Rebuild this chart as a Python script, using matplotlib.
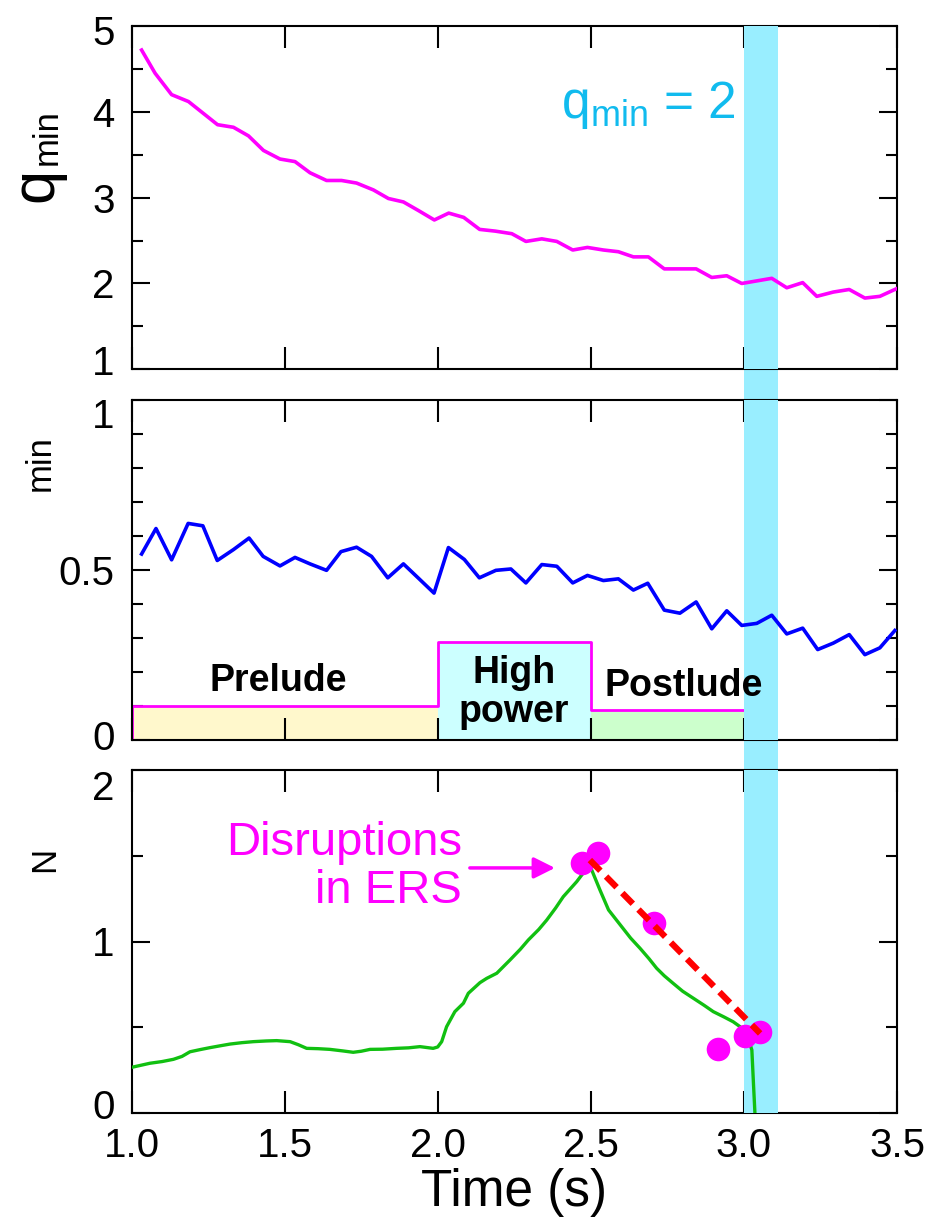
import matplotlib
matplotlib.use("Agg")
import matplotlib.pyplot as plt
import numpy as np
from matplotlib.patches import Rectangle
from matplotlib.transforms import blended_transform_factory, ScaledTranslation

plt.rcParams['font.family'] = ['Liberation Sans', 'DejaVu Sans']
plt.rcParams['mathtext.fontset'] = 'custom'
plt.rcParams['mathtext.rm'] = 'Liberation Sans'
plt.rcParams['mathtext.it'] = 'Liberation Sans'

# top panel: q_min
t_q = [1.033, 1.077, 1.131, 1.186, 1.281, 1.333, 1.382, 1.431, 1.485, 1.534, 1.583, 1.637,
       1.686, 1.735, 1.790, 1.839, 1.888, 1.937, 1.989, 2.036, 2.085, 2.137, 2.188, 2.242,
       2.288, 2.340, 2.389, 2.441, 2.489, 2.541, 2.590, 2.639, 2.688, 2.740, 2.791, 2.844,
       2.895, 2.944, 2.993, 3.042, 3.091, 3.140, 3.192, 3.238, 3.292, 3.344, 3.395, 3.444, 3.499]
q_min = [4.72, 4.45, 4.20, 4.12, 3.85, 3.82, 3.72, 3.55, 3.45, 3.42, 3.29, 3.20,
         3.20, 3.17, 3.09, 2.99, 2.95, 2.85, 2.74, 2.82, 2.77, 2.63, 2.61, 2.58,
         2.49, 2.52, 2.49, 2.39, 2.42, 2.39, 2.37, 2.31, 2.31, 2.17, 2.17, 2.17,
         2.07, 2.09, 2.00, 2.03, 2.06, 1.95, 2.01, 1.85, 1.90, 1.93, 1.83, 1.85, 1.94]

# middle panel
t_b = [1.033, 1.080, 1.131, 1.185, 1.233, 1.280, 1.333, 1.384, 1.430, 1.485, 1.534, 1.583,
       1.637, 1.684, 1.735, 1.784, 1.837, 1.888, 1.937, 1.988, 2.035, 2.087, 2.136, 2.190,
       2.239, 2.288, 2.340, 2.389, 2.441, 2.489, 2.541, 2.590, 2.639, 2.686, 2.740, 2.791,
       2.844, 2.895, 2.944, 2.993, 3.042, 3.091, 3.140, 3.192, 3.241, 3.292, 3.344, 3.395,
       3.444, 3.493]
b_min = [0.547, 0.622, 0.530, 0.637, 0.630, 0.528, 0.560, 0.594, 0.540, 0.512, 0.537, 0.518,
         0.499, 0.554, 0.567, 0.540, 0.477, 0.518, 0.476, 0.432, 0.566, 0.531, 0.477, 0.499,
         0.503, 0.462, 0.516, 0.511, 0.462, 0.484, 0.469, 0.474, 0.441, 0.461, 0.382, 0.373,
         0.406, 0.327, 0.380, 0.337, 0.343, 0.367, 0.312, 0.329, 0.266, 0.285, 0.310, 0.251,
         0.271, 0.322]

# phases
phase_edges = [1.0, 2.0, 2.5, 3.0]
phase_level = [0.10, 0.287, 0.088]
phase_names = ['Prelude', 'High\npower', 'Postlude']
phase_fill = ['#FFF8CC', '#CCFFFF', '#CCFFCC']

# bottom panel
t_n = [1.000, 1.030, 1.060, 1.100, 1.137, 1.165, 1.191, 1.225, 1.256, 1.290, 1.322, 1.360,
       1.398, 1.440, 1.474, 1.518, 1.545, 1.572, 1.610, 1.648, 1.690, 1.724, 1.750, 1.779,
       1.820, 1.866, 1.905, 1.942, 1.985, 2.000, 2.013, 2.029, 2.056, 2.084, 2.100, 2.138,
       2.160, 2.193, 2.236, 2.270, 2.296, 2.330, 2.356, 2.385, 2.410, 2.454, 2.487, 2.503,
       2.530, 2.558, 2.601, 2.630, 2.661, 2.690, 2.715, 2.740, 2.769, 2.800, 2.835, 2.870,
       2.900, 2.935, 2.965, 2.990, 3.009, 3.026, 3.031, 3.036]
beta_n = [0.266, 0.278, 0.290, 0.300, 0.313, 0.330, 0.357, 0.370, 0.381, 0.392, 0.402, 0.410,
          0.416, 0.420, 0.422, 0.416, 0.398, 0.377, 0.375, 0.371, 0.362, 0.354, 0.360, 0.371,
          0.372, 0.377, 0.380, 0.387, 0.377, 0.385, 0.416, 0.503, 0.591, 0.640, 0.698, 0.760,
          0.785, 0.815, 0.892, 0.955, 1.009, 1.070, 1.125, 1.195, 1.261, 1.349, 1.427, 1.417,
          1.300, 1.184, 1.086, 1.020, 0.960, 0.900, 0.844, 0.800, 0.756, 0.710, 0.669, 0.628,
          0.591, 0.560, 0.532, 0.500, 0.465, 0.367, 0.180, 0.0]

t_ers = [2.470, 2.524, 2.706, 2.917, 3.004, 3.053]
ers = [1.456, 1.518, 1.106, 0.371, 0.449, 0.471]
fit_t = [2.497, 3.053]
fit_v = [1.475, 0.464]

band = [3.0, 3.11]
band_col = '#99EEFF'

fig = plt.figure(figsize=(9.35, 12.23), dpi=100)
W, H = 935.0, 1223.0
x0, x1 = 131.5, 897.0
panels = [(26.0, 369.3), (400.0, 740.0), (770.0, 1113.0)]
axs = []
for top, bot in panels:
    ax = fig.add_axes([x0 / W, 1 - bot / H, (x1 - x0) / W, (bot - top) / H])
    axs.append(ax)
ax1, ax2, ax3 = axs

for ax in axs:
    ax.set_xlim(1.0, 3.5)
    ax.set_xticks([1.0, 1.5, 2.0, 2.5, 3.0, 3.5])
    ax.tick_params(which='both', direction='in', top=True, right=True, width=1.5,
                   labelsize=29, color='black')
    ax.tick_params(axis='x', which='major', length=16, pad=10)
    ax.tick_params(axis='y', which='major', length=13, pad=12)
    ax.tick_params(axis='y', which='minor', length=8)
    for s in ax.spines.values():
        s.set_linewidth(1.5)
    ax.axvspan(band[0], band[1], color=band_col, lw=0, zorder=3)
    if ax is not ax3:
        ax.tick_params(labelbottom=False)

# band across the gaps between panels
tr = blended_transform_factory(ax3.transData, fig.transFigure)
for (t1, b1), (t2, b2) in zip(panels[:-1], panels[1:]):
    fig.patches.append(Rectangle((band[0], 1 - t2 / H), band[1] - band[0], (t2 - b1) / H,
                                 transform=tr, color=band_col, lw=0, zorder=-1))

# top
ax1.plot(t_q, q_min, color='#FF00FF', lw=2.6, zorder=4)
ax1.set_ylim(1, 5)
ax1.set_yticks([1, 2, 3, 4, 5])
ax1.set_yticks([1.5, 2.5, 3.5, 4.5], minor=True)
ax1.text(2.687, 4.08, r'$\mathregular{q_{min}}$ = 2', color='#11BBEE', fontsize=37,
         ha='center', va='center', zorder=5)

# middle
ax2.plot(t_b, b_min, color='#0000FF', lw=2.6, zorder=4)
for i in range(3):
    ax2.fill_between([phase_edges[i], phase_edges[i + 1]], 0, phase_level[i],
                     color=phase_fill[i], lw=0, zorder=1)
sx = [phase_edges[0]]
sy = [0]
for i in range(3):
    sx += [phase_edges[i], phase_edges[i + 1]]
    sy += [phase_level[i], phase_level[i]]
ax2.plot(sx, sy, color='#FF00FF', lw=2, zorder=2)
ax2.text(1.48, 0.175, phase_names[0], fontsize=27, fontweight='bold', ha='center', va='center', zorder=5)
ax2.text(2.25, 0.14, phase_names[1], fontsize=27, fontweight='bold', ha='center', va='center',
         linespacing=1.12, zorder=5)
ax2.text(2.803, 0.16, phase_names[2], fontsize=27, fontweight='bold', ha='center', va='center', zorder=5)
ax2.set_ylim(0, 1)
ax2.set_yticks([0, 0.5, 1])
ax2.set_yticklabels(['0', '0.5', '1'])
ax2.set_yticks(np.arange(1, 10) / 10, minor=True)

# bottom
ax3.plot(t_n, beta_n, color='#11C011', lw=2.4, zorder=4)
ax3.plot(t_ers, ers, 'o', color='#FF00FF', ms=17, mec='none', zorder=4)
ax3.plot(fit_t, fit_v, color='#FF0000', lw=4.5, ls=(0, (2.4, 1.3)), zorder=5)
ax3.text(2.079, 1.435, 'Disruptions\nin ERS', color='#FF00FF', fontsize=34,
         ha='right', va='center', multialignment='right', linespacing=1.1, zorder=5)
ax3.annotate('', xy=(2.383, 1.429), xytext=(2.105, 1.429),
             arrowprops=dict(arrowstyle='-|>', color='#FF00FF', lw=2.5, mutation_scale=32,
                             shrinkA=0, shrinkB=0), zorder=5)
ax3.set_ylim(0, 2)
ax3.set_yticks([0, 1, 2])
ax3.set_yticks([0.5, 1.5], minor=True)
ax3.set_xticklabels(['1.0', '1.5', '2.0', '2.5', '3.0', '3.5'])
ax3.set_xlabel('Time (s)', fontsize=37, labelpad=2)

# nudge the end labels inward, like the original
def shift(lab, dy):
    lab.set_transform(lab.get_transform() + ScaledTranslation(0, -dy / 100, fig.dpi_scale_trans))

labs = ax1.get_yticklabels()
shift(labs[0], -9)
shift(labs[-1], 4)
labs = ax2.get_yticklabels()
shift(labs[0], -5)
shift(labs[-1], 13)
labs = ax3.get_yticklabels()
shift(labs[0], -9)
shift(labs[-1], 15)

# y labels
fig.text(37 / W, 1 - 185 / H, 'q', fontsize=44, rotation=90, ha='center', va='center')
fig.text(47 / W, 1 - 137 / H, 'min', fontsize=25, rotation=90, ha='center', va='center')
fig.text(40 / W, 1 - 463 / H, 'min', fontsize=25, rotation=90, ha='center', va='center')
fig.text(45 / W, 1 - 859 / H, 'N', fontsize=25, rotation=90, ha='center', va='center')

fig.savefig('out.png', dpi=100)
